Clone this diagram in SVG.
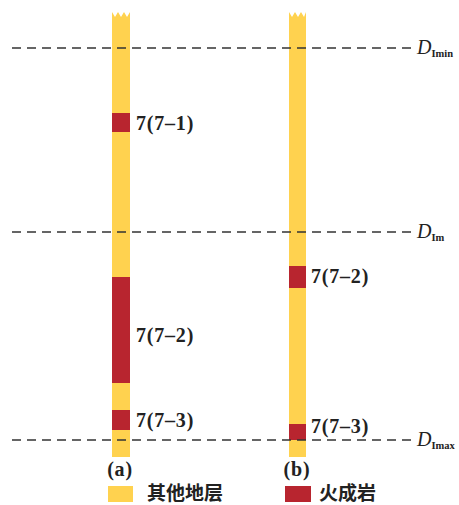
<svg xmlns="http://www.w3.org/2000/svg" width="459" height="505" viewBox="0 0 459 505">
<style>
.y{fill:#FFD24F}
.r{fill:#B8252F}
.dash{stroke:#333;stroke-width:1.6;stroke-dasharray:9,6;fill:none}
.lbl{font-family:"Liberation Serif",serif;font-weight:bold;font-size:20px;letter-spacing:0.8px;fill:#222}
.D{font-family:"Liberation Serif",serif;font-style:italic;font-size:20px;fill:#222}
.sub{font-family:"Liberation Serif",serif;font-weight:bold;font-size:10.5px;fill:#222;font-style:normal}
.cn{font-family:"Noto Sans CJK SC",sans-serif;font-weight:bold;font-size:19px;fill:#222}
</style>
<rect width="459" height="505" fill="#fff"/>
<g id="colA">
<path class="y" d="M112,12 L115,17 L118,12 L121,17 L124,12 L127,17 L130,12 L130,457 L112,457 Z"/>
<rect class="r" x="112" y="113" width="18" height="19"/>
<rect class="r" x="112" y="277" width="18" height="106"/>
<rect class="r" x="112" y="410" width="18" height="20"/>
<text class="lbl" x="136" y="130">7(7–1)</text>
<text class="lbl" x="136" y="342">7(7–2)</text>
<text class="lbl" x="136" y="427">7(7–3)</text>
<text class="lbl" x="120" y="476" text-anchor="middle">(a)</text>
</g>
<g id="colB">
<path class="y" d="M289,12 L292,17 L295,12 L298,17 L301,12 L304,17 L306,12 L306,457 L289,457 Z"/>
<rect class="r" x="289" y="266" width="17" height="22"/>
<rect class="r" x="289" y="424" width="17" height="16"/>
<text class="lbl" x="311" y="283">7(7–2)</text>
<text class="lbl" x="311" y="433">7(7–3)</text>
<text class="lbl" x="297" y="476" text-anchor="middle">(b)</text>
</g>
<g id="connectors">
<line class="dash" x1="12" y1="48" x2="412" y2="48"/>
<line class="dash" x1="12" y1="232" x2="412" y2="232"/>
<line class="dash" x1="12" y1="440" x2="412" y2="440"/>
</g>
<g id="labels">
<text class="D" x="417" y="54">D<tspan class="sub" dy="3">Imin</tspan></text>
<text class="D" x="417" y="238">D<tspan class="sub" dy="3">Im</tspan></text>
<text class="D" x="417" y="446">D<tspan class="sub" dy="3">Imax</tspan></text>
</g>
<g id="legend">
<rect class="y" x="108" y="486" width="25" height="16"/>
<text class="cn" x="147" y="500">其他地层</text>
<rect class="r" x="285" y="486" width="26" height="16"/>
<text class="cn" x="319" y="500">火成岩</text>
</g>
</svg>
